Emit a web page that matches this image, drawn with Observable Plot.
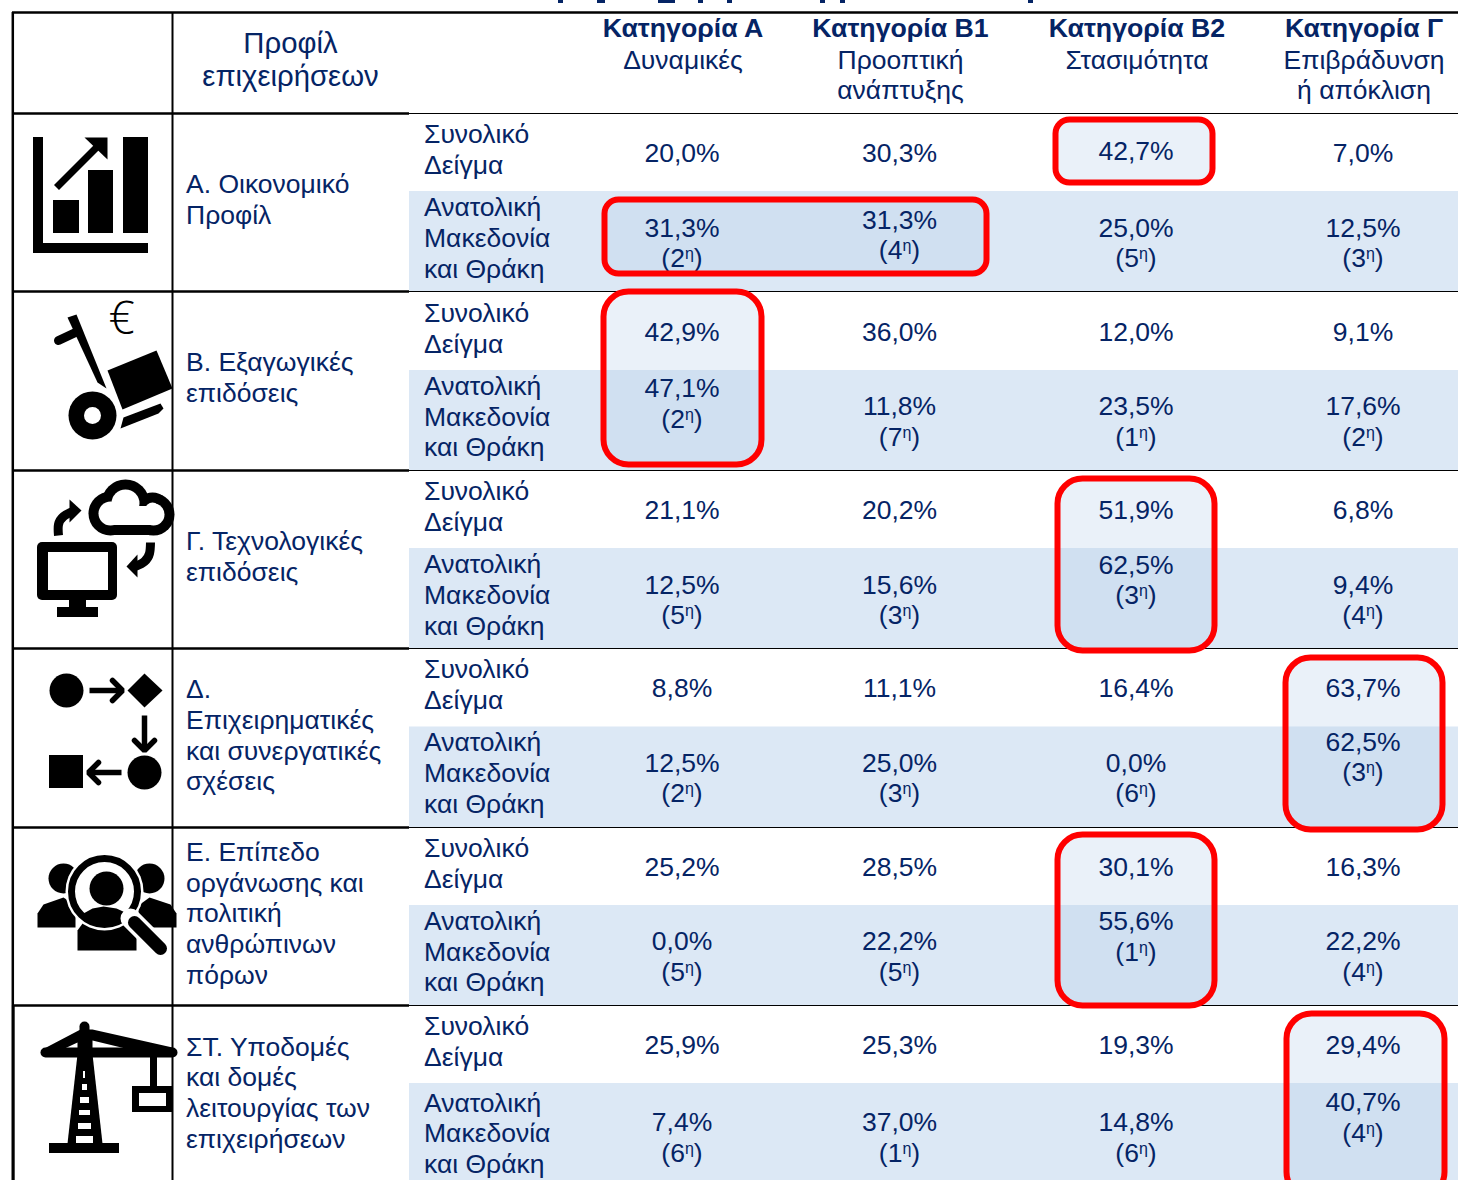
<!DOCTYPE html>
<html lang="el"><head><meta charset="utf-8">
<script src="https://cdn.jsdelivr.net/npm/d3@7"></script>
<script src="https://cdn.jsdelivr.net/npm/@observablehq/plot@0.6"></script>
<style>html,body{margin:0;padding:0;background:#fff;overflow:hidden}svg{display:block}</style>
</head><body><div id="chart"></div>
<script>
// ---------- DATA ----------
const profileHeader = "Προφίλ\nεπιχειρήσεων";
const categories = ["Κατηγορία Α","Κατηγορία Β1","Κατηγορία Β2","Κατηγορία Γ"];
const categoryNames = ["Δυναμικές","Προοπτική\nανάπτυξης","Στασιμότητα","Επιβράδυνση\nή απόκλιση"];
const profiles = ["Α. Οικονομικό\nΠροφίλ","Β. Εξαγωγικές\nεπιδόσεις","Γ. Τεχνολογικές\nεπιδόσεις","Δ.\nΕπιχειρηματικές\nκαι συνεργατικές\nσχέσεις","Ε. Επίπεδο\nοργάνωσης και\nπολιτική\nανθρώπινων\nπόρων","ΣΤ. Υποδομές\nκαι δομές\nλειτουργίας των\nεπιχειρήσεων"];
const sampleLabel = "Συνολικό\nΔείγμα";
const regionLabel = "Ανατολική\nΜακεδονία\nκαι Θράκη";
const sampleValues = [[20.0,30.3,42.7,7.0],[42.9,36.0,12.0,9.1],[21.1,20.2,51.9,6.8],[8.8,11.1,16.4,63.7],[25.2,28.5,30.1,16.3],[25.9,25.3,19.3,29.4]];
const regionValues = [[31.3,31.3,25.0,12.5],[47.1,11.8,23.5,17.6],[12.5,15.6,62.5,9.4],[12.5,25.0,0.0,62.5],[0.0,22.2,55.6,22.2],[7.4,37.0,14.8,40.7]];
const regionRanks = [[2,4,5,3],[2,7,1,2],[5,3,3,4],[2,3,6,3],[5,5,1,4],[6,1,6,4]];

// ---------- LAYOUT ----------
const W = 1458, H = 1180;
const navy = "#052465", font = "'Liberation Sans', Arial, sans-serif";
const colX = [682.5, 900, 1136.5, 1363.5];
const sectionTop = [114, 292.5, 471, 649, 827.5, 1006];
const sectionRule = [113, 291, 470, 648, 827, 1005];
const sectionEnd = [291, 470, 648, 827, 1005, 1190];
const bandTop = [191, 370, 548, 726.5, 905, 1083];
const profileMid = [198.5, 376.5, 555, 734, 912, 1091.5];
const regionMid = [236.7, 415.2, 593.7, 771.7, 950.2, 1132];
const lifts = {"0,1":8,"1,0":18,"2,2":20,"3,3":21,"4,2":20,"5,3":20};
const boxes = [
  {x1:1052.5,x2:1215.5,y1:116.5,y2:185.5,r:17},{x1:601.5,x2:989.5,y1:196.5,y2:276.5,r:17},
  {x1:600.5,x2:764.5,y1:288.5,y2:467.5,r:28},{x1:1054.5,x2:1217.5,y1:475.5,y2:653.5,r:28},
  {x1:1282.5,x2:1445.5,y1:654.5,y2:832.5,r:28},{x1:1054.5,x2:1217.5,y1:831.5,y2:1008.5,r:28},
  {x1:1283.5,x2:1447.5,y1:1010.5,y2:1200,r:28}];
const fmt = v => v.toFixed(1).replace(".", ",") + "%";

const valueCells = [], rankCells = [];
sampleValues.forEach((row,i)=>row.forEach((v,j)=>valueCells.push({x:colX[j]-1,y:sectionTop[i]+38-(i===0&&j===2?2:0),t:fmt(v)})));
regionValues.forEach((row,i)=>row.forEach((v,j)=>{
  const base = sectionTop[i] + (i===5?115:112.3) - (lifts[i+","+j]||0);
  valueCells.push({x:colX[j]-1,y:base,t:fmt(v)});
  rankCells.push({x:colX[j]-1,y:base+30.5,t:`(${regionRanks[i][j]}η)`});
}));

// ---------- ICON HELPERS ----------
const K = "#000";
const X = d=>d[0], Y = d=>d[1];
const poly = (pts,fill=K)=>Plot.line(pts,{x:X,y:Y,fill,stroke:null,curve:"linear-closed"});
const path = (pts,w,curve="linear",cap="butt",stroke=K)=>Plot.line(pts,{x:X,y:Y,stroke,strokeWidth:w,curve,strokeLinecap:cap,strokeLinejoin:"miter"});
const box = (x1,x2,y1,y2,fill=K,r=0)=>Plot.rect([{x1,x2,y1,y2}],{x1:"x1",x2:"x2",y1:"y1",y2:"y2",fill,rx:r,ry:r});
const disc = (x,y,r,fill=K)=>Plot.dot([[x,y]],{x:X,y:Y,r,fill,stroke:null});
const ring = (x,y,r,w)=>Plot.dot([[x,y]],{x:X,y:Y,r,fill:"none",stroke:K,strokeWidth:w});

const icons = [
  // chart
  box(33,43,137,253), box(33,148,243,253), box(53,79,200,233), box(88,113,170,233), box(123,148,137,233),
  path([[56,187],[99,144]],7), poly([[84,137],[107,137],[107,159]]),
  // hand truck
  poly([[67,317],[76,314],[106,388],[97,382]]), path([[58,340],[75,332]],9,"linear","round"),
  disc(92,415,24), disc(92,415,8.5,"#fff"),
  poly([[107,370],[156,350],[172,388],[122,409]]),
  poly([[123,417],[160,403],[163,408],[158,413],[120,428]]),
  // monitor + cloud
  box(37,117,542,600,K,5), box(48,108,552,590,"#fff"), box(69,86,600,608), box(57,98,607,617),
  disc(110,513,22), disc(125,503,24), disc(152,509,17), disc(153,514,21), box(110,153,506,535),
  disc(110,513,12,"#fff"), disc(125,503,14,"#fff"), disc(152,509,7,"#fff"), disc(153,514,11,"#fff"), box(110,153,506,525,"#fff"),
  path([[58,535],[58,524],[63,516],[72,511]],9,"natural"), poly([[81,510],[69,499],[69,522]]),
  path([[150,542],[149,553],[144,561],[135,566]],9,"natural"), poly([[126,566],[137,554],[137,577]]),
  // flow
  disc(66,690,17), path([[89,690],[120,690]],5.5), path([[112,680],[122,690],[112,700]],5.5,"linear","round"),
  poly([[144,673],[162,690],[144,707],[127,690]]),
  path([[144,715],[144,748]],5.5), path([[134,740],[144,750],[154,740]],5.5,"linear","round"),
  disc(144,772,17), path([[121,772],[90,772]],5.5), path([[98,762],[88,772],[98,782]],5.5,"linear","round"),
  box(49,83,755,788),
  // people + magnifier
  disc(63,878,15), disc(149,878,15),
  poly([[37,927],[37,913],[43,904],[63,897],[75,905],[75,927]]),
  poly([[176,927],[176,913],[170,904],[149,897],[138,905],[138,927]]),
  poly([[77,950],[77,930],[90,912],[124,912],[136,930],[136,950]]),
  disc(104,891,39,"#fff"), disc(106,888,17),
  poly([[83,913],[92,908],[103,906],[116,908],[127,913],[118,920],[103,923],[90,920]]),
  ring(104,891,33,7),
  path([[130,918],[160,948]],20,"linear","round","#fff"), path([[134,922],[160,948]],13,"linear","round"),
  // crane
  box(49,119,1143,1153),
  poly([[79,1036],[90,1036],[102,1143],[67,1143]]),
  box(76,93,1136,1143,"#fff"), box(78,91,1123,1129,"#fff"), box(79,90,1110,1115,"#fff"), box(80,89,1097,1103,"#fff"), box(82,87,1084,1090,"#fff"), box(83,85,1071,1078,"#fff"),
  path([[84,1026],[84,1045]],10,"linear","round"),
  path([[45,1052],[172,1052]],10,"linear","round"),
  poly([[40,1050],[80,1029],[92,1029],[172,1047],[172,1056],[125,1048],[92,1040],[92,1048],[77,1048],[77,1042],[62,1049]]),
  box(150,157,1057,1087), box(132,172,1086,1112), box(139,166,1093,1106,"#fff")
];

// ---------- CHART ----------
const text = (data,o)=>Plot.text(data,{x:"x",y:"y",text:"t",fill:navy,fontSize:26.5,lineHeight:1.16,lineAnchor:"middle",...o});
const plot = Plot.plot({
  width:W, height:H, margin:0,
  x:{domain:[0,W],range:[0,W],axis:null},
  y:{domain:[0,H],range:[0,H],axis:null},
  style:{background:"#fff",fontFamily:font},
  marks:[
    Plot.rect(bandTop.map((y1,i)=>({y1,y2:sectionEnd[i]})),{x1:()=>409,x2:()=>W,y1:"y1",y2:"y2",fill:"#dce8f5"}),
    // remnants of the cropped line above the table
    Plot.rect([[558,563],[597,605],[658,675],[698,703],[727,732],[820,825],[840,845],[1028,1033]],{x1:X,x2:Y,y1:()=>0,y2:()=>3,fill:navy}),
    Plot.ruleY([12],{x1:12,x2:W,stroke:K,strokeWidth:2.5}),
    Plot.ruleY(sectionRule,{x1:409,x2:W,stroke:K,strokeWidth:1}),
    Plot.ruleY(sectionRule,{x1:12,x2:409,stroke:K,strokeWidth:2.5}),
    Plot.ruleX([12.3],{y1:12,y2:1005,stroke:K,strokeWidth:2.5}),
    Plot.ruleX([12.6],{y1:1005,y2:H,stroke:K,strokeWidth:3.2}),
    Plot.ruleX([172],{y1:12,y2:H,stroke:K,strokeWidth:2}),
    ...icons,
    boxes.map(d=>Plot.rect([d],{x1:d.x1+3,x2:d.x2-3,y1:d.y1+3,y2:d.y2-3,fill:"#adc9e8",fillOpacity:.26,rx:d.r-3,ry:d.r-3})),
    text([{x:290,y:58.5,t:profileHeader}],{fontSize:29.3,lineHeight:1.12}),
    text(categories.map((t,j)=>({x:colX[j],y:27,t})),{fontWeight:"bold",fontSize:26.7}),
    text(categoryNames.map((t,j)=>({x:colX[j],y:60,t})),{lineAnchor:"top",dy:-13,lineHeight:1.14}),
    text(profiles.map((t,i)=>({x:185.5,y:profileMid[i],t})),{textAnchor:"start"}),
    text(sectionTop.map(y=>({x:423.5,y:y+34.5,t:sampleLabel})),{textAnchor:"start"}),
    text(regionMid.map(y=>({x:423.5,y,t:regionLabel})),{textAnchor:"start"}),
    text(valueCells,{}),
    text(rankCells,{}),
    Plot.text(["€"],{x:()=>121,y:()=>319,fontSize:46,fill:K,fontWeight:200,fontFamily:"'Open Sans', 'Noto Sans', sans-serif"}),
    boxes.map(d=>Plot.rect([d],{x1:d.x1+3,x2:d.x2-3,y1:d.y1+3,y2:d.y2-3,fill:"none",stroke:"#ff0000",strokeWidth:6,rx:d.r-3,ry:d.r-3}))
  ]
});
// superscript ordinal marker in the rank labels
d3.select(plot).selectAll("text").each(function(){
  const m = /^\((\d)η\)$/.exec(this.textContent);
  if(!m) return;
  this.textContent = "";
  const s = d3.select(this);
  s.append("tspan").text(`(${m[1]}`);
  s.append("tspan").attr("font-size",16).attr("dy",-8).text("η");
  s.append("tspan").attr("dy",8).text(")");
});
document.getElementById("chart").append(plot);
</script></body></html>
